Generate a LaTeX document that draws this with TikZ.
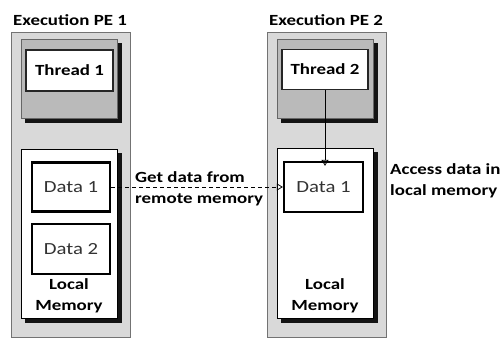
\documentclass[tikz,border=0pt]{standalone}
\usepackage{fontspec}
\setmainfont[FakeStretch=1.22]{Carlito}
\usepackage{tikz}
\usetikzlibrary{arrows.meta}
\definecolor{shadowgray}{RGB}{20,20,20}

\begin{document}
\begin{tikzpicture}[x=1pt,y=-1pt,
	shadebox/.style={fill=shadowgray,draw=shadowgray,line width=0.8pt},
	pebox/.style={draw=black!55,fill=black!15,line width=0.8pt},
	thrarea/.style={draw=black!60,fill=black!27,line width=0.8pt},
	membox/.style={draw=black,fill=white,line width=0.8pt},
	thrbox/.style={draw=black!85,fill=white,line width=1.3pt,font=\bfseries\fontsize{15.5}{17}\selectfont},
	databox/.style={draw=black,fill=white,line width=2.2pt,text=black!80,font=\fontsize{17}{19}\selectfont},
	lbl/.style={font=\bfseries\fontsize{15.5}{21}\selectfont,align=center,inner sep=0pt},
	link/.style={-{Triangle[open,length=6pt,width=7pt]},line width=0.8pt}]
	\useasboundingbox (0,0) rectangle (501,339);
	% execution PE 1
	\node at (70,20) [lbl] (t1) {Execution PE 1};
	\node at (70.5,184.5) [pebox,minimum width=119,minimum height=305] (pe1) {};
	\node at (73,82.5) [shadebox,minimum width=96,minimum height=79] (ta1s) {};
	\node at (69,78.5) [thrarea,minimum width=96,minimum height=79] (ta1) {};
	\node at (69.5,70.5) [thrbox,minimum width=87,minimum height=41] (th1) {Thread 1};
	\node at (73,237.5) [shadebox,minimum width=96,minimum height=169] (m1s) {};
	\node at (69,233.5) [membox,minimum width=96,minimum height=169] (m1) {};
	\node at (71,187) [databox,minimum width=78,minimum height=49] (d11) {Data 1};
	\node at (71,249) [databox,minimum width=78,minimum height=50] (d12) {Data 2};
	\node at (69,296) [lbl] (lm1) {Local\\Memory};
	% execution PE 2
	\node at (326,20) [lbl] (t2) {Execution PE 2};
	\node at (326.5,184.5) [pebox,minimum width=119,minimum height=305] (pe2) {};
	\node at (329,82.5) [shadebox,minimum width=96,minimum height=79] (ta2s) {};
	\node at (325,78.5) [thrarea,minimum width=96,minimum height=79] (ta2) {};
	\node at (325,69.5) [thrbox,minimum width=86,minimum height=40] (th2) {Thread 2};
	\node at (329,237) [shadebox,minimum width=96,minimum height=170] (m2s) {};
	\node at (325,233) [membox,minimum width=96,minimum height=170] (m2) {};
	\node at (323.5,187) [databox,minimum width=79,minimum height=50] (d21) {Data 1};
	\node at (325,296) [lbl] (lm2) {Local\\Memory};
	% labels
	\node at (135,188.5) [lbl,anchor=west,align=left] (get) {Get data from\\remote memory};
	\node at (390,181) [lbl,anchor=west,align=left] (acc) {Access data in\\local memory};
	\draw [link] (th2.south) to ([yshift=-5pt]th2.south |- d21.north);
	\draw [link,dashed,dash pattern=on 4pt off 3pt] (d11.east) to (d21.west);
\end{tikzpicture}
\end{document}
